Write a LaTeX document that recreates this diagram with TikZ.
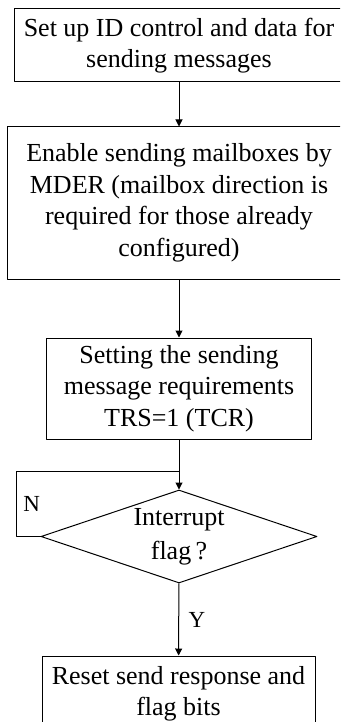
\documentclass[tikz,border=0pt]{standalone}
\usepackage{fontspec}
\setmainfont{Liberation Serif}
\usetikzlibrary{shapes.geometric,arrows.meta}
\begin{document}
\begin{tikzpicture}[line join=round,>={Triangle[length=7pt,width=7pt]},line width=1pt,x=1pt,y=1pt]
		\tikzset{box/.style={draw,align=center,inner sep=0,font=\fontsize{26}{31.5}\selectfont},
		dec/.style={draw,diamond,inner sep=0,minimum width=276,minimum height=93},
		dectext/.style={align=center,font=\fontsize{26}{34}\selectfont},
		lbl/.style={font=\fontsize{23}{26}\selectfont}}
		\useasboundingbox (0,0) rectangle (340,-722);
		\clip (0,0) rectangle (340,-722);
		\node[box,minimum width=330,minimum height=73] (setup) at (179,-45.5) {Set up ID control and data for\\sending messages};
		\node[box,minimum width=344,minimum height=152] (mder) at (179,-203) {Enable sending mailboxes by\\MDER (mailbox direction is\\required for those already\\configured)};
		\node[box,minimum width=265,minimum height=101] (trs) at (179,-388.5) {Setting the sending\\message requirements\\TRS=1 (TCR)};
		\node[dec,label={[dectext]center:Interrupt\\flag\,?}] (flag) at (179,-536.5) {};
		\node[box,minimum width=273,minimum height=76] (reset) at (178.5,-694) {Reset send response and\\flag bits};
		\coordinate (join) at (179,-471);
		\draw[->] (setup) -- (mder);
		\draw[->] (mder) -- (trs);
		\draw[->] (trs) -- (flag);
		\draw (flag.west) -- ++(-24,0) |- node[pos=.25,right=3pt,lbl] {N} (join);
		\draw[->] (flag) -- node[right=6pt,lbl] {Y} (reset);
		
		\end{tikzpicture}
\end{document}
